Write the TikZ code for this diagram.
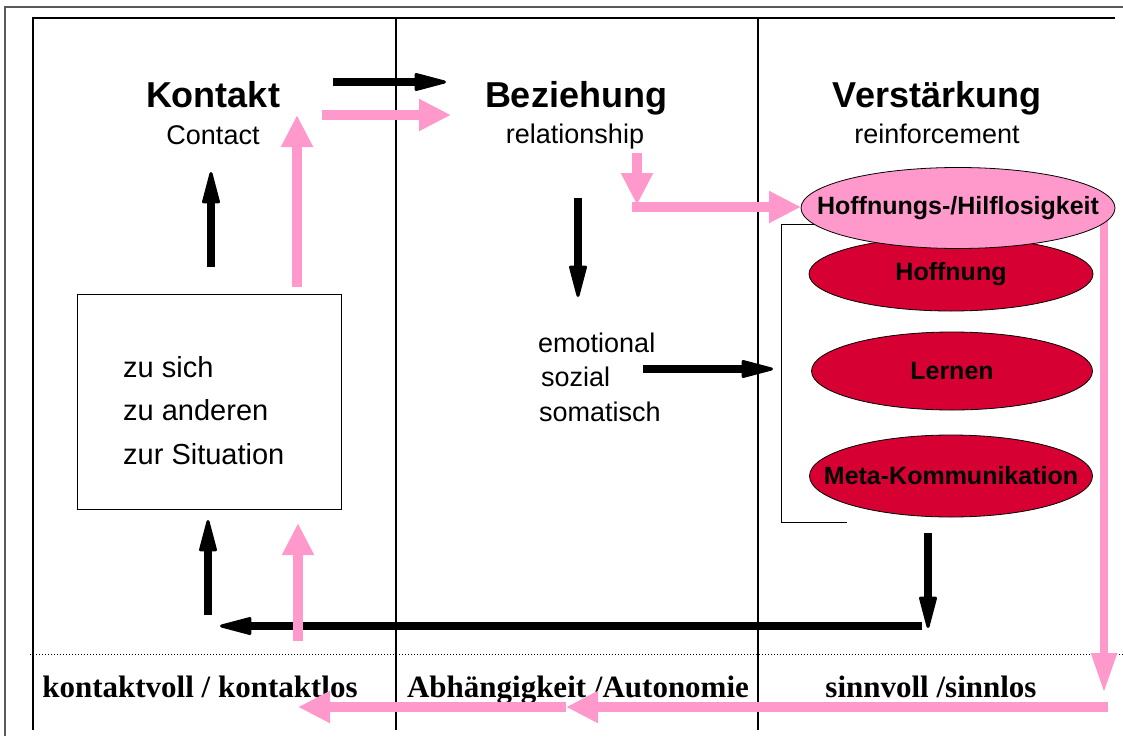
\documentclass[tikz,border=0pt]{standalone}
\usepackage{fontspec}
\setmainfont{Liberation Sans}
\newfontfamily\serifbf{Liberation Serif}
\usetikzlibrary{arrows.meta,shapes.geometric,positioning}
\definecolor{rosa}{RGB}{255,153,204}
\definecolor{karmin}{RGB}{215,0,50}
\begin{document}
\begin{tikzpicture}[x=1pt,y=-1pt,
  title/.style={font=\fontsize{36}{40}\selectfont\bfseries,anchor=base},
  sub/.style={font=\fontsize{27}{30}\selectfont,anchor=base},
  item/.style={anchor=base west,inner sep=0pt},
  oval/.style={draw,ellipse,fill=karmin,line width=0.8pt,inner sep=0pt},
  ovaltext/.style={font=\fontsize{25}{28}\selectfont\bfseries},
  bot/.style={font=\serifbf\fontsize{31}{34}\selectfont\bfseries,anchor=base},
  blk/.style={line width=8pt,-{Triangle[length=36pt,width=18pt,line width=3pt,round]}},
  pnk/.style={rosa,line width=10pt,-{Triangle[length=32pt,width=30pt]}}]
\useasboundingbox (0,0) rectangle (1123,736);
\draw[gray!70!black,line width=1.2pt] (5,736) -- (5,7) -- (1123,7);
\draw[line width=1.2pt] (33,730) -- (33,18) -- (1115,18);
\draw[line width=1.2pt] (396,18) -- (396,730);
\draw[line width=1.2pt] (758,18) -- (758,730);
\draw[dotted,line width=1pt] (30,654) -- (1123,654);

\node[title] (kontakt) at (213,107) {Kontakt};
\node[sub] (contact) at (213,144) {Contact};
\node[title] (bez) at (576,107) {Beziehung};
\node[sub] (rel) at (575,143) {relationship};
\node[title] (verst) at (937,107) {Verstärkung};
\node[sub] (reinf) at (937,143) {reinforcement};

\node[draw,line width=1pt,minimum width=264pt,minimum height=215pt] (box) at (209,402) {};
\begin{scope}[font=\fontsize{29}{32}\selectfont]
\node[item] (z1) at (123,377) {zu sich};
\node[item] (z2) at (123,420) {zu anderen};
\node[item] (z3) at (123,464) {zur Situation};
\end{scope}
\begin{scope}[font=\fontsize{27}{30}\selectfont]
\node[item] (e1) at (538,352) {emotional};
\node[item] (e2) at (541,386) {sozial};
\node[item] (e3) at (539,421) {somatisch};
\end{scope}

\draw[line width=1pt] (820,224) -- (781,224) -- (781,522) -- (847,522);
\node[oval,minimum width=284pt,minimum height=74pt,label={[ovaltext]center:Hoffnung}] (hoff) at (951,274) {};
\node[oval,minimum width=281pt,minimum height=78pt,label={[ovaltext]center:Lernen}] (lern) at (952,371) {};
\node[oval,minimum width=283pt,minimum height=82pt,label={[ovaltext]center:Meta-Kommunikation}] (meta) at (951,476) {};
\draw[rosa,line width=8pt] (1104,215) -- (1104,240);
\node[oval,fill=rosa,minimum width=314pt,minimum height=81pt,label={[ovaltext]center:Hoffnungs-/Hilflosigkeit}] (hilf) at (958,208) {};

\node[bot] (kv) at (200,697) {kontaktvoll / kontaktlos};
\node[bot] (ab) at (578,697) {Abhängigkeit /Autonomie};
\node[bot] (sv) at (931,697) {sinnvoll /sinnlos};

\coordinate (b1) at (211,267); \coordinate (b2) at (211,172);
\coordinate (b3) at (333,82);  \coordinate (b4) at (446,82);
\coordinate (b5) at (578,198); \coordinate (b6) at (578,297);
\coordinate (b7) at (643,369); \coordinate (b8) at (773,369);
\coordinate (b9) at (928,533); \coordinate (b10) at (928,628);
\coordinate (b11) at (922,626); \coordinate (b12) at (220,626);
\coordinate (b13) at (208,615); \coordinate (b14) at (208,520);
\draw[blk] (b1) -- (b2);
\draw[blk] (b3) -- (b4);
\draw[blk] (b5) -- (b6);
\draw[blk] (b7) -- (b8);
\draw[blk] (b9) -- (b10);
\draw[blk] (b11) -- (b12);
\draw[blk] (b13) -- (b14);

\coordinate (p1) at (297,287); \coordinate (p2) at (297,115);
\coordinate (p3) at (322,115); \coordinate (p4) at (451,115);
\coordinate (p5) at (637,153); \coordinate (p6) at (637,205);
\coordinate (p7) at (632,207); \coordinate (p8) at (801,207);
\coordinate (p9) at (298,641); \coordinate (p10) at (298,523);
\coordinate (p11) at (1104,240); \coordinate (p12) at (1104,693);
\coordinate (p13) at (1108,707); \coordinate (p14) at (566,707);
\coordinate (p15) at (298,707);
\draw[pnk] (p1) -- (p2);
\draw[pnk] (p3) -- (p4);
\draw[pnk] (p5) -- (p6);
\draw[pnk] (p7) -- (p8);
\draw[pnk] (p9) -- (p10);
\draw[pnk,line width=8pt,-{Triangle[length=40pt,width=24pt]}] (p11) -- (p12);
\draw[pnk] (p13) -- (p14);
\draw[pnk] (p14) -- (p15);
\end{tikzpicture}
\end{document}
